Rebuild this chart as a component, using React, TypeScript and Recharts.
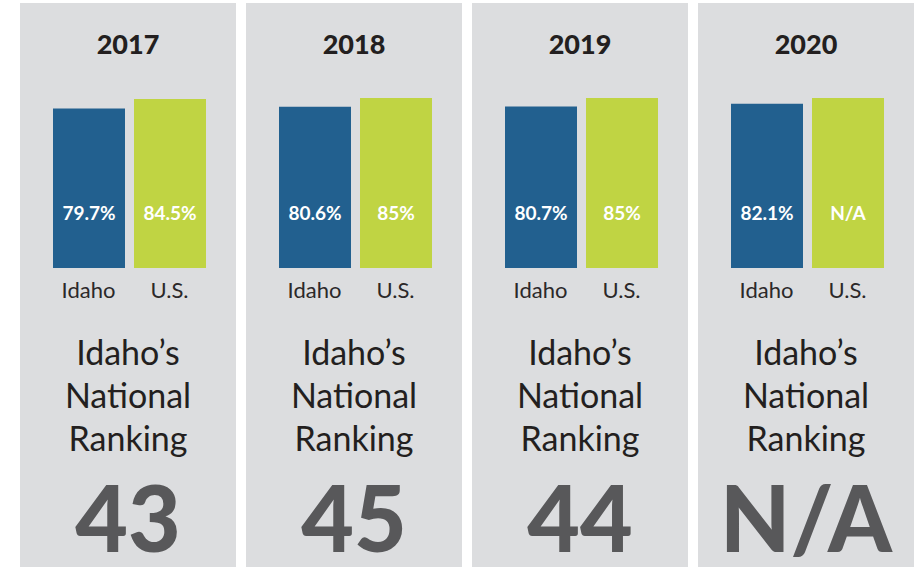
import React from 'react'
import { BarChart, Bar, XAxis, YAxis, Cell, LabelList } from 'recharts'

const years = ['2017', '2018', '2019', '2020']
const groups = ['Idaho', 'U.S.']
const idahoRates = [79.7, 80.6, 80.7, 82.1]
const usRates: (number | null)[] = [84.5, 85, 85, null]
const rankings = ['43', '45', '44', 'N/A']

const Y_MAX = 85
const BLUE = '#22608f'
const GREEN = '#c0d443'
const PANEL_BG = '#dcdddf'
const FONT = 'Lato, "Open Sans", sans-serif'

const fmt = (v: number | null) => (v == null ? 'N/A' : `${v}%`)

// label sits at a fixed height above the bar's base
const InsideLabel = (props: any) => {
  const { x, y, width, height, value } = props
  return (
    <text
      x={x + width / 2}
      y={y + height - 53}
      textAnchor="middle"
      dominantBaseline="middle"
      fill="#ffffff"
      fontFamily={FONT}
      fontWeight={700}
      fontSize={19}
    >
      {value}
    </text>
  )
}

const Panel = ({ i }: { i: number }) => {
  const data = [
    { name: groups[0], value: idahoRates[i], label: fmt(idahoRates[i]) },
    // no U.S. figure: the bar is drawn at full scale and labelled N/A
    { name: groups[1], value: usRates[i] ?? Y_MAX, label: fmt(usRates[i]) },
  ]
  return (
    <div style={{ position: 'relative', width: 216, height: 564, background: PANEL_BG, fontFamily: FONT }}>
      <div style={{ position: 'absolute', top: 25, left: 0, width: 216, textAlign: 'center', fontSize: 27, fontWeight: 900, color: '#231f20', lineHeight: '32px' }}>
        {years[i]}
      </div>
      <div style={{ position: 'absolute', top: 80, left: 0 }}>
        <BarChart width={216} height={225} data={data} margin={{ top: 15, right: 26, left: 28, bottom: 0 }}>
          <XAxis
            dataKey="name"
            axisLine={false}
            tickLine={false}
            tickSize={0}
            tickMargin={14}
            height={40}
            interval={0}
            tick={{ fill: '#2b2829', fontSize: 22, fontFamily: FONT, fontWeight: 400 }}
          />
          <YAxis hide domain={[0, Y_MAX]} />
          <Bar dataKey="value" barSize={72} isAnimationActive={false}>
            {data.map((d, j) => (
              <Cell key={d.name} fill={j === 0 ? BLUE : GREEN} />
            ))}
            <LabelList dataKey="label" content={InsideLabel} />
          </Bar>
        </BarChart>
      </div>
      <div style={{ position: 'absolute', top: 327, left: 0, width: 216, textAlign: 'center', fontSize: 34, fontWeight: 400, color: '#231f20', lineHeight: '43px' }}>
        Idaho’s<br />National<br />Ranking
      </div>
      <div style={{ position: 'absolute', top: 459, left: 0, width: 216, textAlign: 'center', fontSize: 91, fontWeight: 900, color: '#58585a', lineHeight: '110px' }}>
        {rankings[i]}
      </div>
    </div>
  )
}

const App = () => {
  return (
    <div style={{ position: 'absolute', top: 3, left: 20, display: 'flex', gap: 10 }}>
      {years.map((y, i) => (
        <Panel key={y} i={i} />
      ))}
    </div>
  )
}

export default App
